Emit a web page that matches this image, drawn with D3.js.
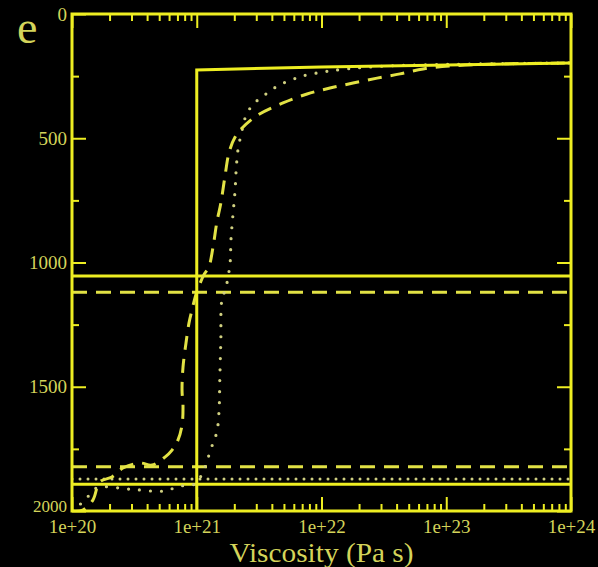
<!DOCTYPE html>
<html>
<head>
<meta charset="utf-8">
<script src="https://cdn.jsdelivr.net/npm/d3@7"></script>
<style>
  html, body { margin: 0; padding: 0; background: #000; }
  svg { display: block; }
</style>
</head>
<body>
<div id="chart"></div>
<script>
// Viscosity (Pa s) vs depth (km) profiles
const xTickLabels = ['1e+20', '1e+21', '1e+22', '1e+23', '1e+24'];
const yTickValues = [0, 500, 1000, 1500, 2000];

// solid step profile
const solidVisc  = [1e21, 1e21, 1e22, 1e24];
const solidDepth = [2000, 225, 213, 197];

// dashed profile
const dashedVisc = [1.0e20, 1.22e20, 1.47e20, 1.67e20, 2.09e20, 2.56e20, 3.51e20, 4.38e20, 5.56e20,
  6.34e20, 7.08e20, 7.62e20, 7.76e20, 7.62e20, 7.76e20, 8.20e20, 8.67e20, 9.16e20, 1.0e21,
  1.14e21, 1.25e21, 1.35e21, 1.45e21, 1.56e21, 1.68e21, 1.82e21, 2.03e21, 2.31e21, 3.10e21,
  4.91e21, 7.66e21, 1.17e22, 1.79e22, 2.79e22, 4.26e22, 6.52e22, 1.07e23, 2.69e23, 1e24];
const dashedDepth = [2000, 1996, 1956, 1883, 1863, 1827, 1807, 1815, 1783,
  1755, 1714, 1654, 1581, 1513, 1421, 1324, 1243, 1191, 1119,
  1050, 1018, 938, 837, 761, 656, 555, 495, 459, 406,
  358, 322, 298, 278, 258, 241, 221, 209, 201, 197];

// dotted profile
const dottedVisc = [1.0e20, 1.27e20, 1.58e20, 2.92e20, 5.36e20, 7.35e20, 9.68e20, 1.12e21, 1.23e21,
  1.35e21, 1.45e21, 1.51e21, 1.53e21, 1.56e21, 1.59e21, 1.71e21, 1.85e21, 1.88e21, 1.95e21,
  2.03e21, 2.07e21, 2.14e21, 2.31e21, 2.44e21, 2.72e21, 3.16e21, 3.79e21, 4.56e21, 5.70e21,
  6.98e21, 1.17e22, 2.45e22, 6.17e22, 1e24];
const dottedDepth = [2000, 1956, 1907, 1912, 1920, 1900, 1891, 1843, 1787,
  1726, 1682, 1594, 1473, 1312, 1151, 1103, 1002, 909, 809,
  708, 628, 547, 467, 419, 374, 342, 314, 286, 266,
  250, 229, 213, 205, 197];

// horizontal reference depths
const solidLevels = [1054, 1892];
const dashedLevels = [1120, 1822];
const dottedLevels = [1871];

const width = 598, height = 567;
const margin = { top: 14, right: 27, bottom: 56, left: 72 };
const lineColor = '#eeee22';
const dashColor = '#e2e245';
const dotColor = '#cfcf80';
const textColor = '#d4d45a';
const serif = '"Liberation Serif", "DejaVu Serif", serif';

const svg = d3.select('#chart').append('svg')
  .attr('width', width)
  .attr('height', height)
  .style('background', '#000');

const x = d3.scaleLog()
  .domain([1e20, 1e24])
  .range([margin.left, width - margin.right]);

const y = d3.scaleLinear()
  .domain([0, 2000])
  .range([margin.top, height - margin.bottom]);

const x0 = x.range()[0], x1 = x.range()[1];
const y0 = y.range()[0], y1 = y.range()[1];

const plot = svg.append('g');

// clip to frame
svg.append('clipPath').attr('id', 'clip')
  .append('rect')
  .attr('x', x0).attr('y', y0)
  .attr('width', x1 - x0).attr('height', y1 - y0);

const lines = plot.append('g').attr('clip-path', 'url(#clip)');

// horizontal levels
function hLines(levels, color, dash) {
  lines.selectAll(null)
    .data(levels)
    .enter()
    .append('line')
    .attr('x1', x0).attr('x2', x1)
    .attr('y1', d => y(d)).attr('y2', d => y(d))
    .attr('stroke', color)
    .attr('stroke-width', 3)
    .attr('stroke-linecap', dash === 'dot' ? 'round' : 'butt')
    .attr('stroke-dasharray', dash === 'dot' ? '0,8' : dash);
}
hLines(dottedLevels, dotColor, 'dot');
hLines(dashedLevels, dashColor, '15,9');
hLines(solidLevels, lineColor, null);

const line = d3.line()
  .x(d => x(d[0]))
  .y(d => y(d[1]));

const smooth = d3.line()
  .x(d => x(d[0]))
  .y(d => y(d[1]))
  .curve(d3.curveCatmullRom.alpha(0.5));

lines.append('path')
  .datum(dottedVisc.map((v, i) => [v, dottedDepth[i]]))
  .attr('d', smooth)
  .attr('fill', 'none')
  .attr('stroke', dotColor)
  .attr('stroke-width', 3.2)
  .attr('stroke-linecap', 'round')
  .attr('stroke-dasharray', '0,11');

lines.append('path')
  .datum(dashedVisc.map((v, i) => [v, dashedDepth[i]]))
  .attr('d', smooth)
  .attr('fill', 'none')
  .attr('stroke', dashColor)
  .attr('stroke-width', 3)
  .attr('stroke-dasharray', '14,9');

lines.append('path')
  .datum(solidVisc.map((v, i) => [v, solidDepth[i]]))
  .attr('d', line)
  .attr('fill', 'none')
  .attr('stroke', lineColor)
  .attr('stroke-width', 3);

// ticks (inward, on all four sides)
const majorX = x.ticks().filter(d => Math.abs(Math.log10(d) - Math.round(Math.log10(d))) < 1e-9);
const minorX = x.ticks().filter(d => !majorX.includes(d));
const yMinor = d3.range(250, 2000, 500);

function drawAxis(axis, transform) {
  const g = svg.append('g')
    .attr('transform', transform)
    .call(axis);
  g.select('.domain').remove();
  g.selectAll('.tick line').attr('stroke', lineColor).attr('stroke-width', 2);
  g.selectAll('text')
    .attr('fill', textColor)
    .style('font-family', serif)
    .style('font-size', '19px');
  return g;
}

drawAxis(d3.axisBottom(x).tickValues(minorX).tickSize(-7).tickFormat(''), `translate(0,${y1})`);
drawAxis(d3.axisTop(x).tickValues(minorX).tickSize(-7).tickFormat(''), `translate(0,${y0})`);
drawAxis(d3.axisTop(x).tickValues(majorX).tickSize(-14).tickFormat(''), `translate(0,${y0})`);
const xAxis = drawAxis(d3.axisBottom(x).tickValues(majorX).tickSize(-14)
  .tickPadding(5)
  .tickFormat((d, i) => xTickLabels[i]), `translate(0,${y1})`);
xAxis.selectAll('text').attr('dy', '0.92em');

drawAxis(d3.axisRight(y).tickValues(yMinor).tickSize(-7).tickFormat(''), `translate(${x1},0)`);
drawAxis(d3.axisRight(y).tickValues(yTickValues).tickSize(-14).tickFormat(''), `translate(${x1},0)`);
drawAxis(d3.axisLeft(y).tickValues(yMinor).tickSize(-7).tickFormat(''), `translate(${x0},0)`);
const yAxis = drawAxis(d3.axisLeft(y).tickValues(yTickValues).tickSize(-14).tickPadding(5)
  .tickFormat(d3.format('d')), `translate(${x0},0)`);
// bottom label sits a little higher so it clears the 1e+20 label below it
yAxis.selectAll('text').filter(d => d === 2000)
  .attr('dy', '0.05em')
  .style('font-size', '17px');

// frame
svg.append('rect')
  .attr('x', x0).attr('y', y0)
  .attr('width', x1 - x0).attr('height', y1 - y0)
  .attr('fill', 'none')
  .attr('stroke', lineColor)
  .attr('stroke-width', 3);

// axis title
svg.append('text')
  .attr('x', x(1e22))
  .attr('y', 562)
  .attr('text-anchor', 'middle')
  .attr('fill', textColor)
  .style('font-family', serif)
  .style('font-size', '27px')
  .attr('textLength', 184)
  .attr('lengthAdjust', 'spacingAndGlyphs')
  .text('Viscosity (Pa s)');

// panel letter
svg.append('text')
  .attr('x', 17)
  .attr('y', 43)
  .attr('fill', textColor)
  .style('font-family', serif)
  .style('font-size', '46px')
  .text('e');
</script>
</body>
</html>
